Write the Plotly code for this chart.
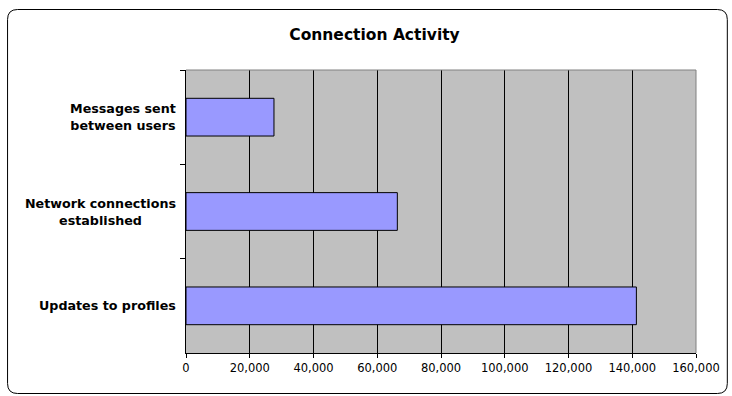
import plotly.graph_objects as go

# ---- data ----
categories = ["Messages sent<br>between users",
              "Network connections<br>established",
              "Updates to profiles"]
values = [27600, 66300, 141300]
x_ticks = [0, 20000, 40000, 60000, 80000, 100000, 120000, 140000, 160000]
title_text = "Connection Activity"

# ---- layout geometry ----
W, H = 732, 396
ML, MR, MT, MB = 186, 33, 70, 43
PW, PH = W - ML - MR, H - MT - MB


def px(x):
    return (x - ML) / PW


def py(y):
    return (H - MB - y) / PH


FONT = "DejaVu Sans"

fig = go.Figure()
fig.add_trace(go.Bar(
    y=categories, x=values, orientation="h",
    marker=dict(color="#9999FF", line=dict(color="#000000", width=1)),
    width=0.4, hoverinfo="x+y",
))

# centered multi-line category labels placed left of the axis
annotations = []
for c in categories:
    annotations.append(dict(
        x=px(177.5), xref="paper", y=c, yref="y",
        text="<b>%s</b>" % c, showarrow=False,
        xanchor="right", yanchor="middle", align="center",
        font=dict(family=FONT, size=12.7, color="#000000"),
    ))

# outer rounded frame
l, r, t, b, rad = 6.5, 730.5, 9.5, 393.5, 10
path = (
    f"M {px(l + rad)},{py(t)} L {px(r - rad)},{py(t)} "
    f"Q {px(r)},{py(t)} {px(r)},{py(t + rad)} "
    f"L {px(r)},{py(b - rad)} Q {px(r)},{py(b)} {px(r - rad)},{py(b)} "
    f"L {px(l + rad)},{py(b)} Q {px(l)},{py(b)} {px(l)},{py(b - rad)} "
    f"L {px(l)},{py(t + rad)} Q {px(l)},{py(t)} {px(l + rad)},{py(t)} Z"
)
shapes = [
    dict(type="path", xref="paper", yref="paper", path=path,
         line=dict(color="#000000", width=1), fillcolor="rgba(0,0,0,0)",
         layer="above"),
    dict(type="line", xref="paper", yref="paper", x0=0, x1=1, y0=1, y1=1,
         line=dict(color="#808080", width=1), layer="above"),
    dict(type="line", xref="paper", yref="paper", x0=1, x1=1, y0=0, y1=1,
         line=dict(color="#808080", width=1), layer="above"),
]

fig.update_layout(
    width=W, height=H,
    margin=dict(l=ML, r=MR, t=MT, b=MB, pad=0),
    paper_bgcolor="#FFFFFF", plot_bgcolor="#C0C0C0",
    showlegend=False,
    title=dict(text="<b>%s</b>" % title_text, xref="container", yref="container",
               x=374.5 / W, xanchor="center", y=1 - 34.5 / H, yanchor="middle",
               font=dict(family=FONT, size=15.5, color="#000000")),
    font=dict(family=FONT, color="#000000"),
    annotations=annotations,
    shapes=shapes,
    bargap=0.6,
)
fig.update_xaxes(
    range=[0, 160000], tickvals=x_ticks, tickformat=",",
    ticks="outside", ticklen=4, tickcolor="#000000", tickwidth=1,
    showline=True, linecolor="#000000", linewidth=1,
    showgrid=True, gridcolor="#000000", gridwidth=1, zeroline=False,
    tickfont=dict(family=FONT, size=11.5, color="#000000"),
    fixedrange=True,
)
fig.update_yaxes(
    type="category", categoryorder="array", categoryarray=categories,
    autorange="reversed",
    tickson="boundaries", ticks="outside", ticklen=5, tickcolor="#000000",
    showticklabels=False,
    showline=True, linecolor="#000000", linewidth=1,
    showgrid=False, zeroline=False, fixedrange=True,
)

fig.write_html("out.html")
